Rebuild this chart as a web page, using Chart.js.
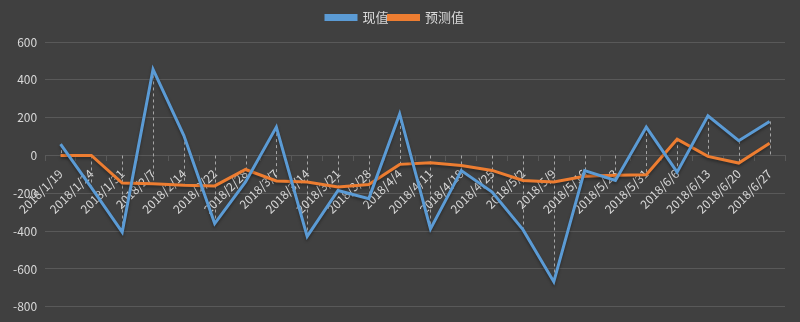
<!DOCTYPE html>
<html>
<head>
<meta charset="utf-8">
<script src="https://cdn.jsdelivr.net/npm/chart.js@4/dist/chart.umd.min.js"></script>
<style>
    html, body { margin: 0; padding: 0; background: #404040; }
    #wrap { width: 800px; height: 322px; }
</style>
</head>
<body>
<div id="wrap"><canvas id="chart"></canvas></div>
<script>
// 数据
const dates = [
    '2018/1/19', '2018/1/24', '2018/1/31', '2018/2/7', '2018/2/14', '2018/2/22',
    '2018/2/28', '2018/3/7', '2018/3/14', '2018/3/21', '2018/3/28', '2018/4/4',
    '2018/4/11', '2018/4/18', '2018/4/25', '2018/5/2', '2018/5/9', '2018/5/16',
    '2018/5/23', '2018/5/31', '2018/6/6', '2018/6/13', '2018/6/20', '2018/6/27'
];
const actual = [
    60, -170, -405, 455, 105, -360,
    -140, 150, -428, -185, -228, 220,
    -388, -80, -193, -392, -667, -80,
    -132, 150, -88, 210, 78, 180
];
const forecast = [
    0, 0, -146, -150, -158, -161,
    -74, -135, -140, -167, -153, -47,
    -39, -53, -79, -132, -140, -110,
    -105, -102, 86, -5, -40, 65
];
const yTicks = { min: -800, max: 600, step: 200 };

const textColor = '#d9d9d9';
const gridColor = '#595959';
const font = "'Noto Sans CJK SC', 'Liberation Sans', sans-serif";

// 图例下方多留一点空间
const legendGap = {
    id: 'legendGap',
    beforeInit(chart) {
        const fit = chart.legend.fit;
        chart.legend.fit = function () {
            fit.call(this);
            this.height += 8;
        };
    }
};

// 每个日期画虚线：从零线到该点
const dropLines = {
    id: 'dropLines',
    beforeDatasetsDraw(chart) {
        const { ctx, scales: { x, y } } = chart;
        ctx.save();
        ctx.strokeStyle = '#a6a6a6';
        ctx.lineWidth = 1;
        ctx.setLineDash([3, 3]);
        dates.forEach((d, i) => {
            const hi = Math.max(0, actual[i], forecast[i]);
            const lo = Math.min(0, actual[i], forecast[i]);
            const px = Math.round(x.getPixelForValue(i)) + 0.5;
            ctx.beginPath();
            ctx.moveTo(px, y.getPixelForValue(hi));
            ctx.lineTo(px, y.getPixelForValue(lo));
            ctx.stroke();
        });
        ctx.restore();
    },
    beforeDatasetDraw(chart) {
        const ctx = chart.ctx;
        ctx.save();
        ctx.shadowColor = 'rgba(0,0,0,0.35)';
        ctx.shadowBlur = 3;
        ctx.shadowOffsetY = 2;
    },
    afterDatasetDraw(chart) {
        chart.ctx.restore();
    }
};

new Chart(document.getElementById('chart'), {
    type: 'line',
    data: {
        labels: dates,
        datasets: [
            {
                label: '现值',
                data: actual,
                borderColor: '#5b9bd5',
                backgroundColor: '#5b9bd5',
                borderWidth: 3,
                pointRadius: 0,
                tension: 0
            },
            {
                label: '预测值',
                data: forecast,
                borderColor: '#ed7d31',
                backgroundColor: '#ed7d31',
                borderWidth: 3,
                pointRadius: 0,
                tension: 0
            }
        ]
    },
    options: {
        responsive: true,
        maintainAspectRatio: false,
        animation: false,
        layout: { padding: { left: 5, right: 15, top: 11, bottom: 15 } },
        plugins: {
            legend: {
                position: 'top',
                labels: {
                    color: textColor,
                    font: { family: font, size: 13 },
                    boxWidth: 30,
                    boxHeight: 4,
                    padding: 0
                }
            },
            tooltip: { enabled: false }
        },
        scales: {
            x: {
                position: { y: 0 },
                offset: true,
                grid: {
                    display: true,
                    drawOnChartArea: false,
                    drawTicks: true,
                    tickLength: 5,
                    color: gridColor,
                    offset: true
                },
                border: { color: gridColor },
                ticks: {
                    color: textColor,
                    font: { family: font, size: 12 },
                    autoSkip: false,
                    maxRotation: 45,
                    minRotation: 45,
                    padding: 6
                }
            },
            y: {
                min: yTicks.min,
                max: yTicks.max,
                grid: { color: gridColor, drawTicks: false },
                border: { display: false },
                ticks: {
                    stepSize: yTicks.step,
                    color: textColor,
                    font: { family: font, size: 12 },
                    padding: 8
                }
            }
        }
    },
    plugins: [legendGap, dropLines]
});
</script>
</body>
</html>
